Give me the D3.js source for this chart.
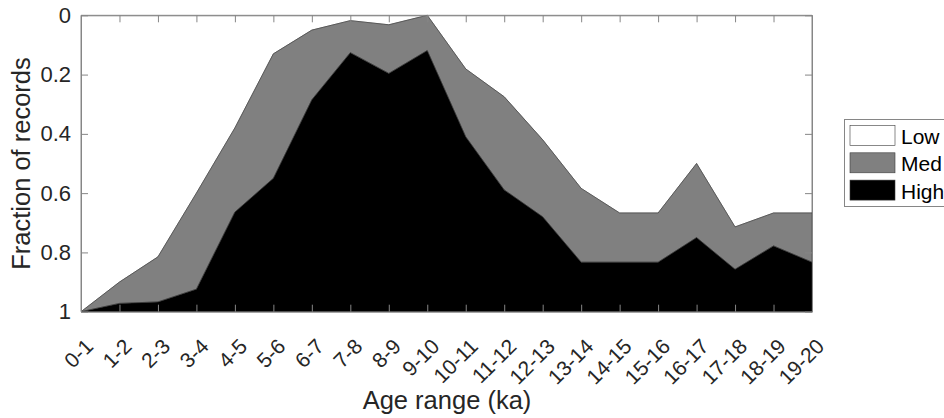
<!DOCTYPE html>
<html lang="en">
<head>
<meta charset="UTF-8">
<title>Fraction of records by age range</title>
<script src="https://cdn.jsdelivr.net/npm/d3@7/dist/d3.min.js"></script>
<style>
html, body {
  margin: 0;
  padding: 0;
  background-color: white;
}
body {
  font-family: 'Liberation Sans', Arial, Helvetica, sans-serif;
}
.axis path, .axis line {
  stroke: #868686;
  stroke-width: 1px;
}
.axis text {
  font-family: 'Liberation Sans', Arial, Helvetica, sans-serif;
  font-size: 22px;
  fill: #262626;
}
.x-axis text {
  font-size: 21px;
}
.axis-label {
  font-size: 25.5px;
  fill: #262626;
}
.legend text {
  font-size: 21px;
  fill: #000;
}
</style>
</head>
<body>
<div id="chart"></div>
<script>

// --------------------------------------
// Data
// --------------------------------------

const ageRanges = ["0-1", "1-2", "2-3", "3-4", "4-5", "5-6", "6-7", "7-8", "8-9", "9-10",
  "10-11", "11-12", "12-13", "13-14", "14-15", "15-16", "16-17", "17-18", "18-19", "19-20"];

const lowFrac  = [1.000, 0.900, 0.815, 0.600, 0.380, 0.130, 0.050, 0.018, 0.032, 0.000,
  0.181, 0.275, 0.420, 0.584, 0.667, 0.667, 0.500, 0.714, 0.667, 0.667];
const medFrac  = [0.000, 0.072, 0.152, 0.324, 0.284, 0.420, 0.235, 0.108, 0.164, 0.119,
  0.229, 0.314, 0.260, 0.249, 0.166, 0.166, 0.250, 0.143, 0.111, 0.166];
const highFrac = [0.000, 0.028, 0.033, 0.076, 0.336, 0.450, 0.715, 0.874, 0.804, 0.881,
  0.590, 0.411, 0.320, 0.167, 0.167, 0.167, 0.250, 0.143, 0.222, 0.167];

const seriesNames = ["Low", "Med", "High"];
const seriesColors = ["#ffffff", "#808080", "#000000"];
const yTicks = [0, 0.2, 0.4, 0.6, 0.8, 1];

// --------------------------------------
// Size and margin
// --------------------------------------

const totalWidth = 944;
const totalHeight = 418;
const margin = {top: 15.3, right: 132, bottom: 106.3, left: 81};
const plotRight = totalWidth - margin.right;
const plotBottom = totalHeight - margin.bottom;
const tickLen = 7;

const svg = d3.select("#chart")
  .append("svg")
  .attr("width", totalWidth)
  .attr("height", totalHeight);

// --------------------------------------
// Scales
// --------------------------------------

const xscale = d3.scalePoint()
  .domain(ageRanges)
  .range([margin.left, plotRight])
  .padding(0);

// reversed axis: 0 at the top, 1 at the bottom
const yscale = d3.scaleLinear()
  .domain([0, 1])
  .range([margin.top, plotBottom]);

// --------------------------------------
// Stacked areas
// --------------------------------------

const table = ageRanges.map((a, i) => ({age: a, Low: lowFrac[i], Med: medFrac[i], High: highFrac[i]}));
const stacked = d3.stack().keys(seriesNames)(table);

const area = d3.area()
  .x(d => xscale(d.data.age))
  .y0(d => yscale(d[0]))
  .y1(d => yscale(d[1]));

svg.append("g")
  .selectAll("path")
  .data(stacked)
  .join("path")
  .attr("d", area)
  .attr("fill", (d, i) => seriesColors[i])
  .attr("stroke", "#3a3a3a")
  .attr("stroke-width", 0.6);

// --------------------------------------
// Axes (box with inward ticks)
// --------------------------------------

const xAxis = svg.append("g")
  .attr("class", "axis x-axis")
  .attr("transform", `translate(0,${plotBottom})`)
  .call(d3.axisBottom(xscale).tickSizeInner(-tickLen).tickSizeOuter(0).tickPadding(0));

xAxis.selectAll("text")
  .attr("text-anchor", "end")
  .attr("dy", null)
  .attr("y", null)
  .attr("transform", "translate(13,36) rotate(-45)");

svg.append("g")
  .attr("class", "axis")
  .attr("transform", `translate(0,${margin.top})`)
  .call(d3.axisTop(xscale).tickSizeInner(-tickLen).tickSizeOuter(0).tickFormat(""));

svg.append("g")
  .attr("class", "axis y-axis")
  .attr("transform", `translate(${margin.left},0)`)
  .call(d3.axisLeft(yscale).tickValues(yTicks).tickSizeInner(-tickLen).tickSizeOuter(0)
    .tickPadding(10).tickFormat(d3.format("")));

svg.append("g")
  .attr("class", "axis")
  .attr("transform", `translate(${plotRight},0)`)
  .call(d3.axisRight(yscale).tickValues(yTicks).tickSizeInner(-tickLen).tickSizeOuter(0).tickFormat(""));

// --------------------------------------
// Axis labels
// --------------------------------------

svg.append("text")
  .attr("class", "axis-label")
  .attr("text-anchor", "middle")
  .attr("x", 447)
  .attr("y", 409)
  .text("Age range (ka)");

svg.append("text")
  .attr("class", "axis-label")
  .attr("text-anchor", "middle")
  .attr("transform", `translate(30,${(margin.top + plotBottom) / 2}) rotate(-90)`)
  .text("Fraction of records");

// --------------------------------------
// Legend
// --------------------------------------

const legend = svg.append("g").attr("class", "legend");

legend.append("rect")
  .attr("x", 844.5)
  .attr("y", 119.5)
  .attr("width", 120)
  .attr("height", 87)
  .attr("fill", "white")
  .attr("stroke", "#868686");

const items = legend.selectAll("g.item")
  .data(seriesNames)
  .join("g")
  .attr("class", "item")
  .attr("transform", (d, i) => `translate(850,${125.5 + i * 27.3})`);

items.append("rect")
  .attr("width", 45)
  .attr("height", 20)
  .attr("fill", (d, i) => seriesColors[i])
  .attr("stroke", "#3a3a3a")
  .attr("stroke-width", 0.6);

items.append("text")
  .attr("x", 51)
  .attr("y", 18.5)
  .text(d => d);

</script>
</body>
</html>
